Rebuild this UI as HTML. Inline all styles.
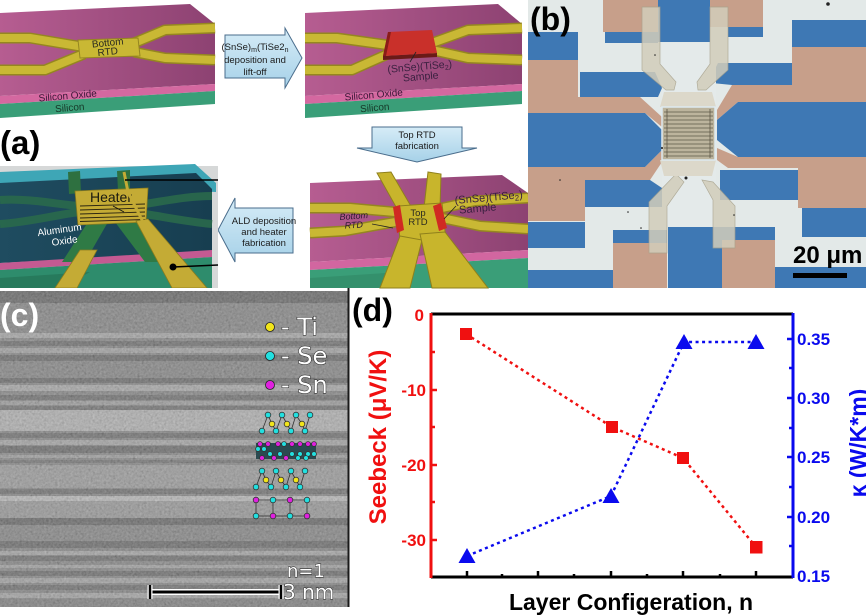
<!DOCTYPE html>
<html><head><meta charset="utf-8"><style>
html,body{margin:0;padding:0;background:#fff;}
svg{display:block;}
text{font-family:"Liberation Sans",Arial,sans-serif;}
.dv{font-family:"DejaVu Sans","Liberation Sans",sans-serif;}
</style></head><body>
<svg width="866" height="615" viewBox="0 0 866 615" xmlns="http://www.w3.org/2000/svg">
<defs>
<linearGradient id="pk" x1="0" y1="0" x2="1" y2="0"><stop offset="0" stop-color="#b65d91"/><stop offset="1" stop-color="#8d4272"/></linearGradient>
<linearGradient id="ar" x1="0" y1="0" x2="0" y2="1"><stop offset="0" stop-color="#d6ecf7"/><stop offset="1" stop-color="#a6d1e8"/></linearGradient>
<linearGradient id="tl" x1="0" y1="0" x2="1" y2="0"><stop offset="0" stop-color="#1f4c60"/><stop offset="1" stop-color="#173e50"/></linearGradient>
<filter id="nz" x="0" y="0" width="100%" height="100%"><feTurbulence type="fractalNoise" baseFrequency="0.45" numOctaves="2" seed="7"/><feColorMatrix type="matrix" values="0.33 0.33 0.33 0 0 0.33 0.33 0.33 0 0 0.33 0.33 0.33 0 0 0 0 0 0 0.45"/></filter>
</defs>
<rect width="866" height="615" fill="#fff"/>

<!-- ===== Panel (a) top-left slab ===== -->
<polygon points="0,13 190,4 215,24 215,84 0,96" fill="url(#pk)"/>
<polygon points="0,96 215,84 215,91 0,104" fill="#d468a0"/>
<polygon points="0,104 215,91 215,104 0,118" fill="#3a9e78"/>
<g fill="none" stroke-linejoin="round" stroke-linecap="butt">
<g stroke="#958620" stroke-width="11">
<polyline points="0,38 30,38 84,47"/><polyline points="0,70 45,70 84,54"/>
<polyline points="134,43 165,30 215,28"/><polyline points="134,52 165,58 215,60"/>
</g>
<g stroke="#c9b834" stroke-width="8">
<polyline points="0,38 30,38 84,47"/><polyline points="0,70 45,70 84,54"/>
<polyline points="134,43 165,30 215,28"/><polyline points="134,52 165,58 215,60"/>
</g></g>
<polygon points="78,40 138,38 140,56 80,58" fill="#c9b834" stroke="#958620" stroke-width="1"/>
<text x="108" y="46" font-size="10" fill="#2a2a20" text-anchor="middle" transform="rotate(-6 108 46)">Bottom</text>
<text x="108" y="55" font-size="10" fill="#2a2a20" text-anchor="middle" transform="rotate(-6 108 55)">RTD</text>
<text x="68" y="99" font-size="10" fill="#3a1838" text-anchor="middle" transform="rotate(-5 68 99)">Silicon Oxide</text>
<text x="70" y="111" font-size="10" fill="#163828" text-anchor="middle" transform="rotate(-5 70 111)">Silicon</text>

<!-- arrow 1 -->
<path d="M225,35 H285 V28 L302,58 L285,88 V78 H225 Z" fill="url(#ar)" stroke="#4a6d8c" stroke-width="1"/>
<text x="255" y="50" font-size="9.5" fill="#1a1a1a" text-anchor="middle">(SnSe)<tspan font-size="7" dy="2">m</tspan><tspan dy="-2">(TiSe2</tspan><tspan font-size="7" dy="2">n</tspan></text>
<text x="255" y="63" font-size="9.5" fill="#1a1a1a" text-anchor="middle">deposition and</text>
<text x="255" y="75" font-size="9.5" fill="#1a1a1a" text-anchor="middle">lift-off</text>

<!-- ===== top-right slab ===== -->
<polygon points="305,13 498,4 522,24 522,84 305,96" fill="url(#pk)"/>
<polygon points="305,96 522,84 522,91 305,104" fill="#d468a0"/>
<polygon points="305,104 522,91 522,104 305,118" fill="#3a9e78"/>
<g fill="none" stroke-linejoin="round">
<g stroke="#958620" stroke-width="11">
<polyline points="305,38 337,38 388,45"/><polyline points="305,70 352,70 388,54"/>
<polyline points="432,43 468,30 522,28"/><polyline points="432,50 468,58 522,60"/>
</g>
<g stroke="#c9b834" stroke-width="8">
<polyline points="305,38 337,38 388,45"/><polyline points="305,70 352,70 388,54"/>
<polyline points="432,43 468,30 522,28"/><polyline points="432,50 468,58 522,60"/>
</g></g>
<polygon points="383,56 437,53 437,57 383,60" fill="#6a1a18"/>
<polygon points="388,32 432,30 437,53 383,56" fill="#c9302a"/>
<polygon points="388,32 391,32 386,56 383,56" fill="#8a1c18"/>
<line x1="410" y1="62" x2="416" y2="52" stroke="#222" stroke-width="0.8"/>
<text x="420" y="70" font-size="10.5" fill="#3a2040" text-anchor="middle" transform="rotate(-5 420 70)">(SnSe)(TiSe<tspan font-size="7" dy="2">2</tspan><tspan dy="-2">)</tspan></text>
<text x="421" y="80" font-size="10.5" fill="#3a2040" text-anchor="middle" transform="rotate(-5 421 80)">Sample</text>
<text x="374" y="98" font-size="10" fill="#3a1838" text-anchor="middle" transform="rotate(-5 374 98)">Silicon Oxide</text>
<text x="375" y="111" font-size="10" fill="#163828" text-anchor="middle" transform="rotate(-5 375 111)">Silicon</text>

<!-- (a) label -->
<text x="0" y="154" font-size="33" font-weight="bold" fill="#000">(a)</text>

<!-- arrow 2 (down) -->
<path d="M372,127 H462 V148 H477 L417,162 L357,148 H372 Z" fill="url(#ar)" stroke="#4a6d8c" stroke-width="1"/>
<text x="417" y="138" font-size="9.5" fill="#1a1a1a" text-anchor="middle">Top RTD</text>
<text x="417" y="149" font-size="9.5" fill="#1a1a1a" text-anchor="middle">fabrication</text>

<!-- arrow 3 (left) -->
<path d="M293,208 H235 V198 L218,230 L235,262 V253 H293 Z" fill="url(#ar)" stroke="#4a6d8c" stroke-width="1"/>
<text x="264" y="224" font-size="9.5" fill="#1a1a1a" text-anchor="middle">ALD deposition</text>
<text x="264" y="235" font-size="9.5" fill="#1a1a1a" text-anchor="middle">and heater</text>
<text x="264" y="246" font-size="9.5" fill="#1a1a1a" text-anchor="middle">fabrication</text>

<!-- ===== bottom-left image ===== -->
<rect x="0" y="166" width="218" height="122" fill="#d6d8d8"/>
<polygon points="0,172 195,164 216,183 216,192 0,183" fill="#3ea6b6"/>
<polygon points="0,183 196,173 212,189 212,252 0,263" fill="url(#tl)"/>
<g fill="none" stroke="#2a6a4c" stroke-width="8" opacity="0.9">
<path d="M0,200 C30,198 60,205 80,206"/><path d="M0,224 C30,222 60,214 80,212"/>
<path d="M145,204 C170,200 190,196 212,196"/><path d="M145,214 C170,218 190,222 212,224"/>
</g>
<polygon points="0,263 212,250 212,257 0,270" fill="#c45a92"/>
<polygon points="0,270 212,257 212,288 0,288" fill="#2e8c6c"/>
<polygon points="0,278 90,272 60,288 0,288" fill="#277a5c"/>
<polygon points="88,222 108,222 85,262 62,262" fill="#2f7a45"/>
<polygon points="115,222 135,220 170,262 145,262" fill="#2f7a45"/>
<polygon points="68,172 80,171 81,193 69,194" fill="#2e7040"/>
<polygon points="117,171 130,170 130,190 118,191" fill="#2e7040"/>
<polygon points="75,191 148,188 146,222 78,225" fill="#c4ab35" stroke="#8c7c1e" stroke-width="0.8"/>
<g stroke="#2a2410" stroke-width="0.9">
<line x1="80" y1="206" x2="145" y2="204"/><line x1="80" y1="210" x2="145" y2="208"/>
<line x1="80" y1="214" x2="145" y2="212"/><line x1="80" y1="218" x2="145" y2="216"/>
<line x1="80" y1="221.5" x2="145" y2="219.5"/>
</g>
<text x="111" y="202" font-size="14" fill="#1a1a10" text-anchor="middle">Heater</text>
<line x1="113" y1="206" x2="124" y2="212" stroke="#111" stroke-width="0.8"/>
<polygon points="80,250 97,250 77,288 55,288" fill="#c4ab35" stroke="#8c7c1e" stroke-width="0.8"/>
<polygon points="136,221 148,219 207,288 172,288" fill="#c4ab35" stroke="#8c7c1e" stroke-width="0.8"/>
<polyline points="124,172 128,192 143,222" fill="none" stroke="#c4ab35" stroke-width="3"/>
<line x1="125" y1="180" x2="218" y2="180" stroke="#000" stroke-width="1.5"/>
<circle cx="173" cy="267" r="3.5" fill="#000"/>
<line x1="173" y1="267" x2="218" y2="265" stroke="#000" stroke-width="1.5"/>
<text x="60" y="233" font-size="10" fill="#fff" text-anchor="middle" transform="rotate(-8 60 233)">Aluminum</text>
<text x="65" y="244" font-size="10" fill="#fff" text-anchor="middle" transform="rotate(-8 65 244)">Oxide</text>

<!-- ===== bottom-right image ===== -->
<polygon points="310,183 502,175 528,193 528,250 310,262" fill="url(#pk)"/>
<polygon points="310,262 528,250 528,258 310,270" fill="#d266a0"/>
<polygon points="310,270 528,258 528,288 310,288" fill="#3a9e78"/>
<polygon points="310,278 400,272 380,288 310,288" fill="#34906c"/>
<g fill="none" stroke-linejoin="round">
<g stroke="#958620" stroke-width="11">
<polyline points="310,208 350,208 395,212"/><polyline points="310,233 345,231 395,222"/>
<polyline points="442,208 475,201 528,198"/><polyline points="442,218 480,226 528,229"/>
</g>
<g stroke="#c9b834" stroke-width="8">
<polyline points="310,208 350,208 395,212"/><polyline points="310,233 345,231 395,222"/>
<polyline points="442,208 475,201 528,198"/><polyline points="442,218 480,226 528,229"/>
</g></g>
<g fill="#c8b52c" stroke="#8f801c" stroke-width="1">
<polygon points="377,173 391,172 412,208 400,214"/>
<polygon points="428,172 441,174 440,208 424,208"/>
<polygon points="398,206 442,203 446,240 400,244"/>
<polygon points="400,236 422,240 410,288 380,288"/>
<polygon points="420,234 445,232 488,288 432,288"/>
</g>
<polygon points="393,207 400,205 404,230 397,233" fill="#d02a22"/>
<polygon points="433,206 441,203 447,228 439,231" fill="#d02a22"/>
<text x="354" y="219" font-size="9" font-style="italic" fill="#2a1a30" text-anchor="middle" transform="rotate(-4 354 219)">Bottom</text>
<text x="354" y="228" font-size="9" font-style="italic" fill="#2a1a30" text-anchor="middle" transform="rotate(-4 354 228)">RTD</text>
<line x1="372" y1="224" x2="393" y2="228" stroke="#222" stroke-width="0.8"/>
<text x="418" y="216" font-size="9.5" fill="#2a2a20" text-anchor="middle">Top</text>
<text x="418" y="225" font-size="9.5" fill="#2a2a20" text-anchor="middle">RTD</text>
<text x="489" y="201" font-size="11" fill="#3a2040" text-anchor="middle" transform="rotate(-5 489 201)">(SnSe)(TiSe<tspan font-size="8" dy="2">2</tspan><tspan dy="-2">)</tspan></text>
<text x="478" y="212" font-size="11" fill="#3a2040" text-anchor="middle" transform="rotate(-5 478 212)">Sample</text>
<line x1="456" y1="206" x2="444" y2="219" stroke="#222" stroke-width="0.8"/>

<!-- ===== Panel (b) micrograph ===== -->
<rect x="528" y="0" width="338" height="288" fill="#e3e9e8"/>
<g fill="#c79f8a">
<polygon points="603,0 658,0 658,32 603,32"/>
<polygon points="710,0 763,0 763,27 710,27"/>
<polygon points="528,60 578,60 578,97 640,97 662,117 662,127 645,113 528,113"/>
<polygon points="528,167 645,167 662,150 662,162 650,180 585,180 585,221 528,221"/>
<polygon points="792,47 866,47 866,102 738,102 717,120 717,110 732,85 792,85"/>
<polygon points="717,148 738,157 866,157 866,208 798,208 798,168 728,168 717,160"/>
<polygon points="613,243 667,243 667,288 613,288"/>
<polygon points="722,240 775,240 775,288 722,288"/>
</g>
<g fill="#3e78b4">
<polygon points="528,32 578,32 578,60 528,60"/>
<polygon points="580,72 655,72 662,88 658,97 580,97"/>
<polygon points="528,113 645,113 662,130 662,150 645,167 528,167"/>
<polygon points="585,180 650,180 665,190 665,207 585,207"/>
<polygon points="528,222 585,222 585,248 528,248"/>
<polygon points="528,270 613,270 613,288 528,288"/>
<polygon points="605,32 658,32 658,43 605,43"/>
<polygon points="658,0 710,0 710,42 658,42"/>
<polygon points="728,27 763,27 763,37 728,37"/>
<polygon points="792,20 866,20 866,47 792,47"/>
<polygon points="718,63 792,63 792,85 732,85 712,83 712,75"/>
<polygon points="738,102 866,102 866,157 738,157 717,140 717,120"/>
<polygon points="720,170 798,170 798,200 720,200"/>
<polygon points="802,208 866,208 866,237 802,237"/>
<polygon points="775,267 866,267 866,288 775,288"/>
<polygon points="613,230 667,230 667,243 613,243"/>
<polygon points="668,227 722,227 722,288 668,288"/>
<polygon points="722,227 775,227 775,240 722,240"/>
</g>
<rect x="662" y="43" width="54" height="184" fill="#e4eaea"/>
<g fill="#d2cdbb" stroke="#a8a28c" stroke-width="0.7" opacity="0.85">
<polygon points="642,7 660,7 660,64 676,82 674,90 666,90 642,70"/>
<polygon points="710,7 728,7 728,70 706,90 698,90 697,82 710,64"/>
<polygon points="649,253 667,253 667,206 684,182 676,174 649,202"/>
<polygon points="713,248 735,248 735,206 713,182 702,180 713,200"/>
</g>
<polygon points="664,92 712,92 716,107 660,107" fill="#dcd8ca"/>
<polygon points="660,160 716,160 712,176 664,176" fill="#dcd8ca"/>
<rect x="662" y="107" width="53" height="53" fill="#bcb49d" stroke="#dde9f0" stroke-width="1.5"/>
<g stroke="#5e5848" stroke-width="0.8">
<line x1="664" y1="112" x2="713" y2="112"/><line x1="664" y1="116" x2="713" y2="116"/>
<line x1="664" y1="120" x2="713" y2="120"/><line x1="664" y1="124" x2="713" y2="124"/>
<line x1="664" y1="128" x2="713" y2="128"/><line x1="664" y1="132" x2="713" y2="132"/>
<line x1="664" y1="136" x2="713" y2="136"/><line x1="664" y1="140" x2="713" y2="140"/>
<line x1="664" y1="144" x2="713" y2="144"/><line x1="664" y1="148" x2="713" y2="148"/>
<line x1="664" y1="152" x2="713" y2="152"/><line x1="664" y1="156" x2="713" y2="156"/>
<line x1="667" y1="109" x2="667" y2="158"/><line x1="710" y1="109" x2="710" y2="158"/>
</g>
<g fill="#222">
<circle cx="686" cy="178" r="1.5"/><circle cx="828" cy="4" r="1.8"/><circle cx="655" cy="55" r="0.8"/>
<circle cx="641" cy="228" r="0.8"/><circle cx="628" cy="212" r="0.8"/><circle cx="560" cy="180" r="0.8"/>
<circle cx="662" cy="148" r="1"/><circle cx="734" cy="215" r="0.8"/>
</g>
<text x="530" y="30" font-size="32" font-weight="bold" fill="#000">(b)</text>
<text x="793" y="263" font-size="24" font-weight="bold" fill="#000">20 μm</text>
<rect x="793" y="273" width="54" height="5" fill="#000"/>

<!-- ===== Panel (c) TEM ===== -->
<rect x="0" y="288" width="350" height="327" fill="#fff"/>
<rect x="0" y="291" width="348" height="316" fill="#6e6e6e"/>
<g>
<rect x="0" y="291" width="348" height="12" fill="#474747"/>
<rect x="0" y="333" width="348" height="5" fill="#989898"/>
<rect x="0" y="341" width="348" height="5" fill="#505050"/>
<rect x="0" y="348" width="348" height="5" fill="#939393"/>
<rect x="0" y="355" width="348" height="6" fill="#4b4b4b"/>
<rect x="0" y="378" width="348" height="5" fill="#4c4c4c"/>
<rect x="0" y="385" width="348" height="6" fill="#9a9a9a"/>
<rect x="0" y="395" width="348" height="5" fill="#515151"/>
<rect x="0" y="401" width="348" height="4" fill="#8d8d8d"/>
<rect x="0" y="406" width="348" height="4" fill="#545454"/>
<rect x="0" y="410" width="348" height="21" fill="#a6a6a6"/>
<rect x="0" y="433" width="348" height="5" fill="#515151"/>
<rect x="0" y="440" width="348" height="5" fill="#979797"/>
<rect x="0" y="446" width="348" height="7" fill="#4c4c4c"/>
<rect x="0" y="455" width="348" height="3" fill="#8e8e8e"/>
<rect x="0" y="460" width="348" height="3" fill="#565656"/>
<rect x="0" y="465" width="348" height="23" fill="#8a8a8a"/>
<rect x="0" y="489" width="348" height="5" fill="#515151"/>
<rect x="0" y="496" width="348" height="5" fill="#b0b0b0"/>
<rect x="0" y="501" width="348" height="17" fill="#868686"/>
<rect x="0" y="518" width="348" height="7" fill="#484848"/>
<rect x="0" y="541" width="348" height="7" fill="#4c4c4c"/>
<rect x="0" y="551" width="348" height="4" fill="#979797"/>
<rect x="0" y="556" width="348" height="5" fill="#515151"/>
<rect x="0" y="565" width="348" height="3" fill="#939393"/>
<rect x="0" y="571" width="348" height="5" fill="#4e4e4e"/>
<rect x="0" y="578" width="348" height="5" fill="#949494"/>
<rect x="0" y="585" width="348" height="5" fill="#515151"/>
<rect x="0" y="593" width="348" height="5" fill="#959595"/>
<rect x="0" y="599" width="348" height="8" fill="#666"/>
</g>
<rect x="0" y="291" width="348" height="316" filter="url(#nz)"/>
<line x1="348.5" y1="288" x2="348.5" y2="607" stroke="#1a1a1a" stroke-width="2"/>
<text x="0" y="326" font-size="32" font-weight="bold" fill="#fff">(c)</text>
<!-- legend -->
<circle cx="270" cy="327" r="4.5" fill="#f2e51a" stroke="#222" stroke-width="0.8"/>
<circle cx="270" cy="356" r="4.5" fill="#22e0e0" stroke="#222" stroke-width="0.8"/>
<circle cx="270" cy="385" r="4.5" fill="#e020e0" stroke="#222" stroke-width="0.8"/>
<g class="dv" font-size="24" fill="#fff" stroke="#222" stroke-width="1" paint-order="stroke">
<text x="281" y="335" class="dv">- Ti</text>
<text x="281" y="364" class="dv">- Se</text>
<text x="281" y="393" class="dv">- Sn</text>
</g>
<!-- atomic structures -->
<g stroke="#333" stroke-width="0.8">
<polyline points="262,431 268,415 272,424 276,431 282,415 287,424 291,431 296,415 302,424 305,431 310,415" fill="none"/>
<polyline points="256,487 262,471 266,480 271,487 276,471 281,480 286,487 291,471 296,480 300,487 305,471" fill="none"/>
<rect x="256" y="500" width="51" height="16" fill="none"/>
<line x1="273" y1="500" x2="273" y2="516"/><line x1="290" y1="500" x2="290" y2="516"/>
<g fill="#22e0e0">
<circle cx="268" cy="415" r="2.8"/><circle cx="282" cy="415" r="2.8"/><circle cx="296" cy="415" r="2.8"/><circle cx="310" cy="415" r="2.8"/>
<circle cx="262" cy="431" r="2.8"/><circle cx="276" cy="431" r="2.8"/><circle cx="291" cy="431" r="2.8"/><circle cx="305" cy="431" r="2.8"/>
<circle cx="262" cy="471" r="2.8"/><circle cx="276" cy="471" r="2.8"/><circle cx="291" cy="471" r="2.8"/><circle cx="305" cy="471" r="2.8"/>
<circle cx="256" cy="487" r="2.8"/><circle cx="271" cy="487" r="2.8"/><circle cx="286" cy="487" r="2.8"/><circle cx="300" cy="487" r="2.8"/>
<circle cx="273" cy="500" r="2.8"/><circle cx="307" cy="500" r="2.8"/><circle cx="256" cy="516" r="2.8"/><circle cx="290" cy="516" r="2.8"/>
</g>
<g fill="#f2e51a">
<circle cx="272" cy="424" r="2.8"/><circle cx="287" cy="424" r="2.8"/><circle cx="302" cy="424" r="2.8"/>
<circle cx="266" cy="480" r="2.8"/><circle cx="281" cy="480" r="2.8"/><circle cx="296" cy="480" r="2.8"/>
</g>
<g fill="#e020e0">
<circle cx="256" cy="500" r="2.8"/><circle cx="290" cy="500" r="2.8"/><circle cx="273" cy="516" r="2.8"/><circle cx="307" cy="516" r="2.8"/>
</g>
<rect x="256" y="443" width="60" height="16" fill="#2a4a50" stroke="none"/>
<g fill="#e020e0">
<circle cx="260" cy="444" r="2.4"/><circle cx="268" cy="444" r="2.4"/><circle cx="278" cy="444" r="2.4"/><circle cx="292" cy="444" r="2.4"/><circle cx="300" cy="444" r="2.4"/><circle cx="308" cy="444" r="2.4"/><circle cx="314" cy="444" r="2.4"/>
<circle cx="262" cy="458" r="2.4"/><circle cx="274" cy="458" r="2.4"/><circle cx="286" cy="458" r="2.4"/>
</g>
<g fill="#22e0e0">
<circle cx="258" cy="449" r="2.4"/><circle cx="264" cy="449" r="2.4"/><circle cx="284" cy="444" r="2.4"/>
<circle cx="270" cy="454" r="2.4"/><circle cx="280" cy="454" r="2.4"/><circle cx="292" cy="454" r="2.4"/><circle cx="300" cy="454" r="2.4"/><circle cx="308" cy="454" r="2.4"/><circle cx="314" cy="454" r="2.4"/>
<circle cx="298" cy="458" r="2.4"/><circle cx="306" cy="458" r="2.4"/>
</g>
</g>
<g class="dv" fill="#fff" stroke="#222" stroke-width="0.9" paint-order="stroke">
<text x="287" y="577" font-size="18" class="dv">n=1</text>
<text x="283" y="599" font-size="20" class="dv">3 nm</text>
</g>
<g stroke="#fff" stroke-width="6"><line x1="150" y1="592" x2="281" y2="592"/></g>
<g stroke="#000" stroke-width="3"><line x1="150" y1="592" x2="281" y2="592"/></g>
<g stroke="#fff" stroke-width="5"><line x1="150" y1="585" x2="150" y2="599"/><line x1="281" y1="585" x2="281" y2="599"/></g>
<g stroke="#000" stroke-width="2.5"><line x1="150" y1="585" x2="150" y2="599"/><line x1="281" y1="585" x2="281" y2="599"/></g>

<!-- ===== Panel (d) plot ===== -->
<text x="352" y="321" font-size="32" font-weight="bold" fill="#000">(d)</text>
<line x1="431" y1="314" x2="793" y2="314" stroke="#000" stroke-width="3"/>
<line x1="431" y1="577" x2="793" y2="577" stroke="#000" stroke-width="3"/>
<line x1="431" y1="313" x2="431" y2="578" stroke="#f01010" stroke-width="3"/>
<line x1="793" y1="313" x2="793" y2="578" stroke="#0a0aee" stroke-width="3"/>
<g stroke="#000" stroke-width="2.5">
<line x1="467" y1="577" x2="467" y2="571"/><line x1="538" y1="577" x2="538" y2="571"/>
<line x1="611" y1="577" x2="611" y2="571"/><line x1="683" y1="577" x2="683" y2="571"/>
<line x1="756" y1="577" x2="756" y2="571"/>
<line x1="502" y1="577" x2="502" y2="574"/><line x1="574" y1="577" x2="574" y2="574"/>
<line x1="647" y1="577" x2="647" y2="574"/><line x1="720" y1="577" x2="720" y2="574"/>
</g>
<g stroke="#f01010" stroke-width="2.5">
<line x1="431" y1="390" x2="437" y2="390"/><line x1="431" y1="465" x2="437" y2="465"/><line x1="431" y1="540" x2="437" y2="540"/>
<line x1="431" y1="352" x2="435" y2="352"/><line x1="431" y1="427" x2="435" y2="427"/><line x1="431" y1="502" x2="435" y2="502"/>
</g>
<g stroke="#0a0aee" stroke-width="2.5">
<line x1="787" y1="339" x2="793" y2="339"/><line x1="787" y1="398" x2="793" y2="398"/><line x1="787" y1="457" x2="793" y2="457"/><line x1="787" y1="517" x2="793" y2="517"/>
<line x1="789" y1="368" x2="793" y2="368"/><line x1="789" y1="428" x2="793" y2="428"/><line x1="789" y1="487" x2="793" y2="487"/><line x1="789" y1="546" x2="793" y2="546"/>
</g>
<g font-size="17" font-weight="bold" fill="#f01010" text-anchor="end">
<text x="424" y="321">0</text><text x="426" y="396">-10</text><text x="426" y="471">-20</text><text x="426" y="546">-30</text>
</g>
<g font-size="17" font-weight="bold" fill="#0a0aee">
<text x="797" y="345">0.35</text><text x="797" y="404">0.30</text><text x="797" y="463">0.25</text><text x="797" y="523">0.20</text><text x="797" y="582">0.15</text>
</g>
<polyline points="466,334 612,427 683,458 756,547" fill="none" stroke="#f01010" stroke-width="2.5" stroke-dasharray="3 3.5"/>
<polyline points="467,556 611,496 684,342 756,342" fill="none" stroke="#0a0aee" stroke-width="2.5" stroke-dasharray="3 3.5"/>
<g fill="#f01010">
<rect x="460" y="328" width="12" height="12"/><rect x="606" y="421" width="12" height="12"/>
<rect x="677" y="452" width="12" height="12"/><rect x="750" y="541" width="12.5" height="12.5"/>
</g>
<g fill="#0a0aee">
<polygon points="467,548 475.5,563 458.5,563"/><polygon points="611,488 619.5,503 602.5,503"/>
<polygon points="684,334 692.5,349 675.5,349"/><polygon points="756,334 764.5,349 747.5,349"/>
</g>
<text transform="translate(386,437) rotate(-90)" font-size="24" font-weight="bold" fill="#f01010" text-anchor="middle">Seebeck (μV/K)</text>
<text transform="translate(866,443) rotate(-90)" font-size="23" font-weight="bold" fill="#0a0aee" text-anchor="middle">κ (W/K*m)</text>
<text x="631" y="610" font-size="23" font-weight="bold" fill="#000" text-anchor="middle">Layer Configeration, n</text>
</svg>
</body></html>
